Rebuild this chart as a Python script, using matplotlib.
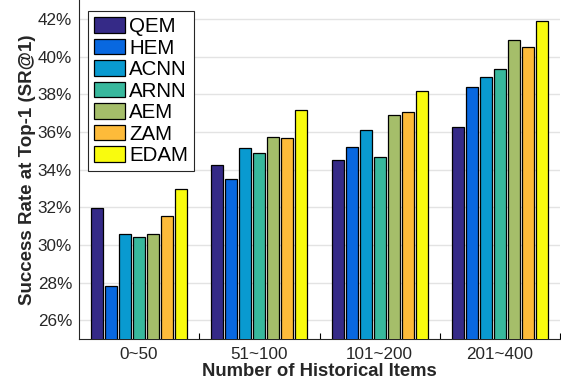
import matplotlib
matplotlib.use("Agg")
import matplotlib.pyplot as plt
import numpy as np

groups = ["0~50", "51~100", "101~200", "201~400"]
methods = ["QEM", "HEM", "ACNN", "ARNN", "AEM", "ZAM", "EDAM"]
values = {
    "QEM":  [31.93, 34.24, 34.49, 36.24],
    "HEM":  [27.82, 33.50, 35.19, 38.40],
    "ACNN": [30.55, 35.16, 36.08, 38.89],
    "ARNN": [30.42, 34.86, 34.65, 39.32],
    "AEM":  [30.60, 35.71, 36.88, 40.87],
    "ZAM":  [31.55, 35.67, 37.03, 40.50],
    "EDAM": [32.95, 37.14, 38.19, 41.90],
}
colors = ["#352A87", "#0868E0", "#099AD0", "#38B89D", "#A5BE6A", "#FDBB3A", "#F9FB0E"]
yticks = [26, 28, 30, 32, 34, 36, 38, 40, 42]

plt.rcParams['font.family'] = ['Liberation Sans', 'DejaVu Sans']
fig = plt.figure(figsize=(5.61, 3.81), dpi=100)
ax = fig.add_axes([79/561, 1-339/381, 481/561, 339/381])

x = np.arange(1, len(groups)+1)
slot = 0.1167
width = 0.1
for i, m in enumerate(methods):
    off = (i - 3) * slot
    ax.bar(x + off, values[m], width=width, bottom=0, color=colors[i],
           edgecolor='black', linewidth=0.9, label=m, zorder=3)

ax.set_xlim(0.5, 4.5)
ax.set_ylim(25, 43)
ax.set_yticks(yticks)
ax.set_yticklabels([f"{t}%" for t in yticks], fontsize=12.3, color='#262626')
ax.set_xticks(x)
ax.set_xticklabels(groups, fontsize=12.3, color='#262626')
ax.set_xticks([1.5, 2.5, 3.5, 4.5], minor=True)
ax.tick_params(axis='x', which='major', length=0, pad=5.5)
ax.tick_params(axis='x', which='minor', direction='in', length=4, width=0.8)
ax.tick_params(axis='y', which='major', length=0, pad=5)
ax.grid(axis='y', color='#e3e3e3', linewidth=1.0, zorder=0)
ax.set_axisbelow(True)
for s in ['top', 'right']:
    ax.spines[s].set_visible(False)
ax.spines['left'].set_color('#262626')
ax.spines['bottom'].set_color('#262626')

ax.set_xlabel("Number of Historical Items", fontsize=13.3, fontweight='bold', labelpad=1, color='#262626')
ax.set_ylabel("Success Rate at Top-1 (SR@1)", fontsize=13.5, fontweight='bold', labelpad=1, color='#262626')

leg = ax.legend(loc='upper left', bbox_to_anchor=(9/481, 1-11/339), fontsize=14.8,
                frameon=True, fancybox=False, edgecolor='#262626', framealpha=1,
                handlelength=1.5, handleheight=0.8, handletextpad=0.2,
                labelspacing=0.12, borderpad=0.3, borderaxespad=0)
leg.get_frame().set_linewidth(0.8)

fig.savefig("out.png", dpi=100)
